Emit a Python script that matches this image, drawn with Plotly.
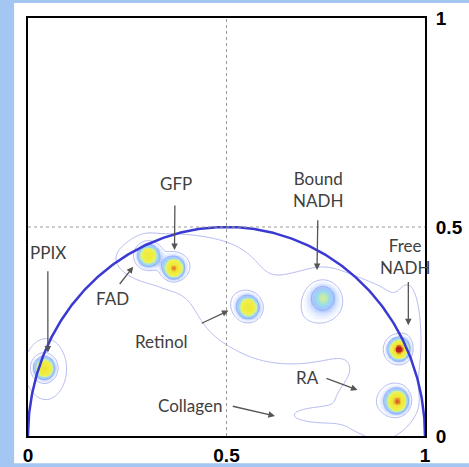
import numpy as np
import plotly.graph_objects as go

# ---- data ----
# intense spots (phasor clusters): centre g, centre s, peak, spread
spot_names = ["PPIX", "FAD", "GFP", "Retinol", "Bound NADH", "Free NADH", "RA"]
spot_g = [0.040, 0.302, 0.366, 0.554, 0.743, 0.933, 0.929]
spot_s = [0.163, 0.433, 0.402, 0.309, 0.333, 0.208, 0.084]
spot_peak = [0.70, 0.62, 0.80, 0.66, 0.32, 0.97, 0.84]
spot_spread = [0.017, 0.018, 0.016, 0.018, 0.025, 0.016, 0.018]

# faint background regions: centre g, centre s, peak, spread g, spread s
bg_g = [0.045, 0.33, 0.46, 0.50, 0.64, 0.75, 0.90, 0.86, 0.73, 0.96]
bg_s = [0.160, 0.425, 0.40, 0.33, 0.26, 0.31, 0.17, 0.07, 0.050, 0.25]
bg_peak = [0.13, 0.11, 0.09, 0.08, 0.09, 0.11, 0.10, 0.09, 0.10, 0.08]
bg_sg = [0.035, 0.08, 0.08, 0.05, 0.12, 0.08, 0.05, 0.07, 0.045, 0.02]
bg_ss = [0.050, 0.040, 0.05, 0.05, 0.07, 0.06, 0.11, 0.045, 0.012, 0.08]

# annotations
label_text = ["GFP", "PPIX", "FAD", "Retinol", "Bound<br>NADH", "Free<br>NADH", "RA", "Collagen"]
label_x = [0.372, 0.050, 0.212, 0.337, 0.730, 0.950, 0.705, 0.408]
label_y = [0.605, 0.440, 0.330, 0.227, 0.590, 0.430, 0.139, 0.072]
tail_x = [0.370, 0.050, 0.228, 0.434, 0.730, 0.958, 0.748, 0.512]
tail_y = [0.555, 0.398, 0.360, 0.268, 0.520, 0.372, 0.139, 0.072]
head_x = [0.369, 0.050, 0.265, 0.505, 0.728, 0.958, 0.830, 0.622]
head_y = [0.445, 0.200, 0.405, 0.300, 0.397, 0.265, 0.110, 0.048]

tick_vals = [0, 0.5, 1]
tick_text = ["0", "0.5", "1"]
guide_value = 0.5

# ---- density field ----
gx = np.linspace(0, 1, 301)
gy = np.linspace(0, 1, 301)
X, Y = np.meshgrid(gx, gy)
Z = np.zeros_like(X)
for cx, cy, a, s in zip(spot_g, spot_s, spot_peak, spot_spread):
    Z += a * np.exp(-(((X - cx) ** 2) + ((Y - cy) ** 2)) / (2 * s * s))
for cx, cy, a, sx, sy in zip(bg_g, bg_s, bg_peak, bg_sg, bg_ss):
    Z += a * np.exp(-((X - cx) ** 2) / (2 * sx * sx) - ((Y - cy) ** 2) / (2 * sy * sy))
Z = np.clip(Z, 0, 1)

colorscale = [
    [0.0, "#ffffff"],
    [0.17, "#ffffff"],
    [0.24, "#dce7ff"],
    [0.32, "#a8c4ff"],
    [0.40, "#98dcec"],
    [0.47, "#d8f090"],
    [0.55, "#f0f048"],
    [0.80, "#eee838"],
    [0.88, "#ecc030"],
    [0.94, "#e07028"],
    [1.0, "#b82020"],
]

fig = go.Figure()
fig.add_trace(go.Heatmap(
    x=gx, y=gy, z=Z, zmin=0, zmax=1, zsmooth="best",
    colorscale=colorscale, showscale=False, hoverinfo="skip",
))
fig.add_trace(go.Contour(
    x=gx, y=gy, z=Z, showscale=False,
    contours=dict(start=0.045, end=0.17, size=0.12, coloring="none"),
    line=dict(color="#aab0ee", width=0.9),
    hoverinfo="skip",
))
fig.add_trace(go.Contour(
    x=gx, y=gy, z=Z, showscale=False,
    contours=dict(start=0.3, end=0.31, size=0.1, coloring="none"),
    line=dict(color="#8ea6f2", width=0.8),
    hoverinfo="skip",
))

# universal semicircle
t = np.linspace(0, np.pi, 300)
fig.add_trace(go.Scatter(
    x=0.5 + 0.5 * np.cos(t), y=0.5 * np.sin(t),
    mode="lines", line=dict(color="#3a3ad2", width=2.5),
    hoverinfo="skip", showlegend=False,
))

for txt, lx, ly in zip(label_text, label_x, label_y):
    fig.add_annotation(x=lx, y=ly, text=txt, showarrow=False,
                       font=dict(family="Lato", size=17, color="#404040"))
for tx, ty, hx, hy in zip(tail_x, tail_y, head_x, head_y):
    fig.add_annotation(x=hx, y=hy, ax=tx, ay=ty, axref="x", ayref="y",
                       text="", showarrow=True, arrowhead=2, arrowsize=1,
                       arrowwidth=1.3, arrowcolor="#555555")

# white panel behind the plot
fig.add_shape(type="rect", xref="paper", yref="paper",
              x0=-0.035, x1=1.12, y0=-0.065, y1=1.036,
              fillcolor="white", line=dict(width=0), layer="below")
# dotted guide lines at 0.5 drawn above the density map
fig.add_vline(x=guide_value, line=dict(color="#9a9a9a", width=1, dash="dot"), layer="above")
fig.add_hline(y=guide_value, line=dict(color="#9a9a9a", width=1, dash="dot"), layer="above")

axis_common = dict(
    range=[0, 1], tickvals=tick_vals, ticktext=tick_text,
    showline=True, linecolor="black", linewidth=2, mirror=True,
    showgrid=False, zeroline=False, ticks="", automargin=False, layer="above traces",
    tickfont=dict(family="Liberation Sans", size=19, color="black", weight="bold"),
)

fig.update_layout(
    width=469, height=467,
    margin=dict(l=28, r=44, t=18, b=31, autoexpand=False),
    paper_bgcolor="#a3c6f2",
    plot_bgcolor="white",
    showlegend=False,
    xaxis=dict(**axis_common, ticklabelstandoff=1),
    yaxis=dict(**axis_common, side="right", ticklabelstandoff=5),
)

fig.write_html(
    "out.html",
    config={"displayModeBar": False},
    post_script="document.body.style.margin='0';document.body.style.background='#a3c6f2';",
)
